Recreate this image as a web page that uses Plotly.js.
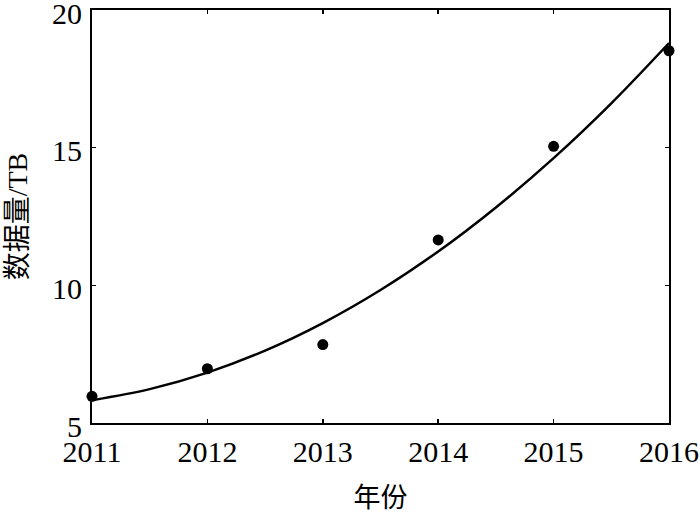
<!DOCTYPE html>
<html>
<head>
<meta charset="utf-8">
<script src="https://cdn.plot.ly/plotly-3.0.1.min.js"></script>
<style>
  html, body { margin: 0; padding: 0; background: #fff; }
  #chart { width: 700px; height: 516px; }
</style>
</head>
<body>
<div id="chart"></div>
<script>
// measured points
var years = [2011, 2012, 2013, 2014, 2015, 2016];
var dataTB = [5.97, 6.97, 7.85, 11.65, 15.05, 18.52];

// fitted curve
var fitX = [2011, 2011.5, 2012, 2012.5, 2013, 2013.5, 2014, 2014.5, 2015, 2015.5, 2016];
var fitY = [5.83, 6.23, 6.83, 7.63, 8.63, 9.83, 11.23, 12.83, 14.62, 16.61, 18.8];

var serif = "Liberation Serif, Times New Roman, Noto Sans CJK SC, serif";

var traces = [
  {
    x: fitX, y: fitY,
    mode: "lines", type: "scatter",
    line: {color: "#000", width: 2.5, shape: "spline"},
    hoverinfo: "skip"
  },
  {
    x: years, y: dataTB,
    mode: "markers", type: "scatter",
    marker: {color: "#000", size: 11},
    cliponaxis: false
  }
];

var axisCommon = {
  showgrid: false, zeroline: false,
  showline: true, linecolor: "#000", linewidth: 2,
  mirror: "ticks",
  ticks: "inside", ticklen: 4, tickwidth: 1.5, tickcolor: "#000",
  tickfont: {family: serif, size: 30, color: "#000"},
  ticklabeloverflow: "allow",
  automargin: false
};

var layout = {
  width: 700, height: 516,
  margin: {l: 92, r: 31, t: 10, b: 93},
  paper_bgcolor: "#fff", plot_bgcolor: "#fff",
  showlegend: false,
  xaxis: Object.assign({}, axisCommon, {
    range: [2011, 2016],
    tickmode: "linear", tick0: 2011, dtick: 1,
    ticklabelstandoff: 1,
    title: {text: "年份", font: {family: serif, size: 27, color: "#000"}, standoff: 21}
  }),
  yaxis: Object.assign({}, axisCommon, {
    range: [5, 20],
    tickmode: "linear", tick0: 5, dtick: 5,
    ticklabelstandoff: 2,
    ticklabelshift: 3,
    title: {text: "数据量/TB", font: {family: serif, size: 28, color: "#000"}, standoff: 16}
  })
};

Plotly.newPlot("chart", traces, layout, {displayModeBar: false, staticPlot: true});
</script>
</body>
</html>
